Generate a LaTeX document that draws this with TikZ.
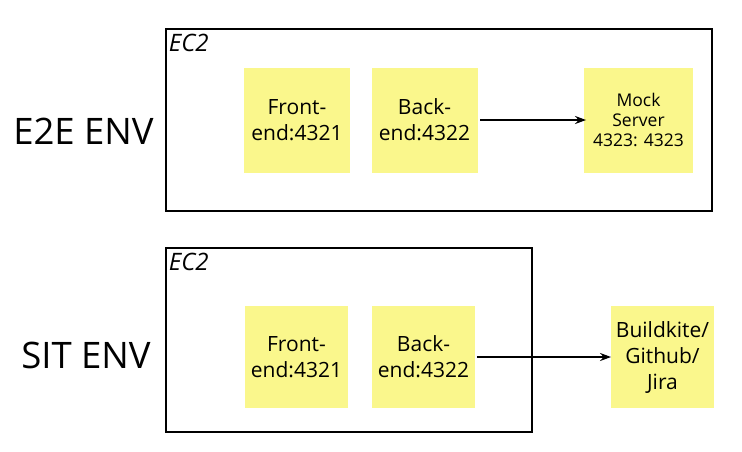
\documentclass[tikz,border=0pt]{standalone}
\usepackage{fontspec}
\setmainfont{Open Sans}
\usetikzlibrary{arrows.meta}
\definecolor{sticky}{RGB}{250,247,140}
\begin{document}
\begin{tikzpicture}[x=1pt,y=-1pt,>={Stealth[length=11pt,width=8pt]},line width=1.9pt,
    note/.style={fill=sticky,align=center,inner sep=0pt,minimum width=106pt,minimum height=105pt,font=\fontsize{21}{26}\selectfont},
    envlabel/.style={font=\fontsize{36.5}{40}\selectfont},
    ectwo/.style={anchor=north west,inner sep=0pt,font=\fontsize{24}{26}\selectfont\itshape}]
    \useasboundingbox (0,0) rectangle (742,451);
    % E2E
    \node[envlabel] (e2e) at (83.5,131) {E2E ENV};
    \draw (166,29) rectangle (712,211);
    \node[ectwo] (ectop) at (168,33) {EC2};
    \foreach \n/\x/\t in {front/297/{Front-\\end:4321},back/424.5/{Back-\\end:4322}}{
       \node[note] (t\n) at (\x,120) {\t};
    }
    \node[note,minimum width=109pt,font=\fontsize{17.5}{20}\selectfont] (tmock) at (638.5,120) {Mock\\Server\\4323: 4323};
    \draw[->,shorten >=-3pt] (tback.east) ++(2pt,0) -- (tmock.west);
    % SIT
    \node[envlabel] (sit) at (86,355) {SIT ENV};
    \draw (166,248) rectangle (532,432);
    \node[ectwo] (ecbot) at (168,252) {EC2};
    \foreach \n/\x/\t in {front/296.5/{Front-\\end:4321},back/423.5/{Back-\\end:4322},ext/662.5/{Buildkite/\\Github/\\Jira}}{
       \node[note,minimum width=103pt,minimum height=102pt] (b\n) at (\x,357) {\t};
    }
    \draw[->,shorten >=-1pt] (bback.east) ++(1pt,0) -- (bext.west);
\end{tikzpicture}
\end{document}
